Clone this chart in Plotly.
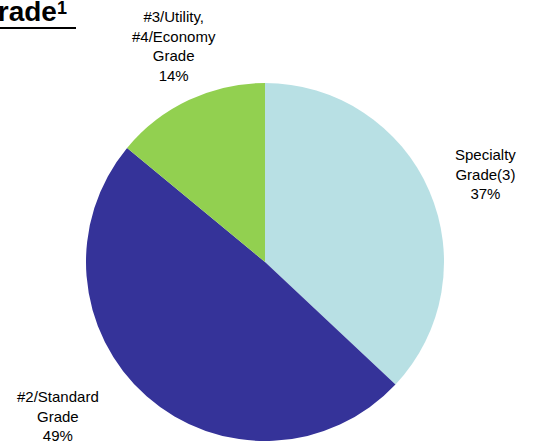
import plotly.graph_objects as go

labels = ["Specialty<br>Grade(3)", "#2/Standard<br>Grade", "#3/Utility,<br>#4/Economy<br>Grade"]
values = [37, 49, 14]
colors = ["#B8E0E4", "#353399", "#92D050"]
label_pos = [(485, 174), (58, 416), (174, 46)]  # pixel centres of the label blocks

W, H = 539, 444
fig = go.Figure(go.Pie(
    labels=labels, values=values, sort=False, direction="clockwise", rotation=0,
    marker=dict(colors=colors, line=dict(width=0)),
    textinfo="none", hoverinfo="label+percent",
    domain=dict(x=[86 / W, 444 / W], y=[3 / H, 361 / H]),
    showlegend=False,
))

total = sum(values)
for lab, v, (px, py) in zip(labels, values, label_pos):
    fig.add_annotation(
        x=px / W, y=1 - py / H, xref="paper", yref="paper",
        text=f"{lab}<br>{round(100 * v / total)}%", showarrow=False,
        xanchor="center", yanchor="middle", align="center",
        font=dict(family="Arial, Liberation Sans", size=15, color="#000000"),
    )

# clipped title "...Grade¹"
fig.add_annotation(
    x=59 / W, y=1, xref="paper", yref="paper", yshift=6,
    text="<b>Grade</b>", showarrow=False,
    xanchor="right", yanchor="top",
    font=dict(family="Arial, Liberation Sans", size=28, color="#000000"),
)
fig.add_annotation(
    x=55 / W, y=1, xref="paper", yref="paper", yshift=4,
    text="<b>1</b>", showarrow=False,
    xanchor="left", yanchor="top",
    font=dict(family="Arial, Liberation Sans", size=18, color="#000000"),
)
# title underline
fig.add_shape(type="line", xref="paper", yref="paper",
              x0=-0.01, x1=76 / W, y0=1 - 28 / H, y1=1 - 28 / H,
              line=dict(color="#000000", width=2))

fig.update_layout(
    width=W, height=H, margin=dict(l=0, r=0, t=0, b=0),
    paper_bgcolor="white", plot_bgcolor="white",
)
fig.write_html("out.html", config={"displayModeBar": False},
               post_script="document.body.style.margin='0';document.body.style.overflow='hidden';")
